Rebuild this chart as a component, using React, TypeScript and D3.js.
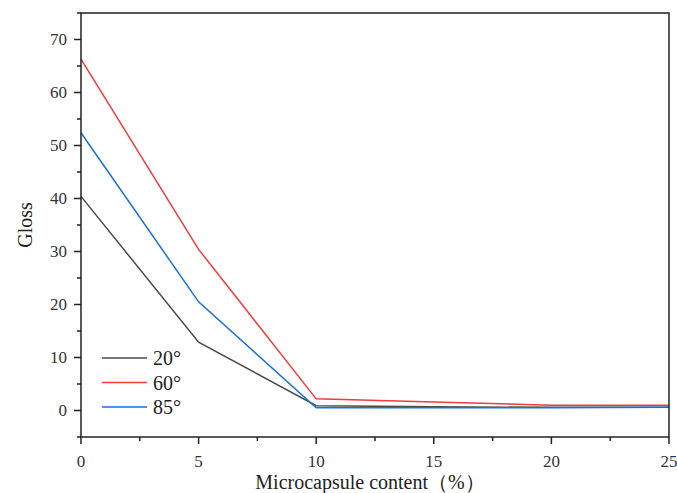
import { useMemo } from "react";
import * as d3 from "d3";

const WIDTH = 677;
const HEIGHT = 493;
const MARGIN = { top: 13, right: 8, bottom: 56, left: 81 };

const content = [0, 5, 10, 15, 20, 25];
const gloss20 = [40.4, 12.9, 0.9, 0.7, 0.6, 0.6];
const gloss60 = [66.3, 30.4, 2.2, 1.6, 1.0, 1.0];
const gloss85 = [52.4, 20.5, 0.5, 0.5, 0.5, 0.6];

const seriesNames = ["20°", "60°", "85°"];
const seriesColors = ["#4a4a4a", "#f03c3c", "#1a6fdb"];

const xTicks = [0, 5, 10, 15, 20, 25];
const yTicks = [0, 10, 20, 30, 40, 50, 60, 70];

const FONT = "Liberation Serif, DejaVu Serif, serif";
const textStyle = { fontFamily: FONT };

const App = () => {
  const innerW = WIDTH - MARGIN.left - MARGIN.right;
  const innerH = HEIGHT - MARGIN.top - MARGIN.bottom;

  const x = useMemo(() => d3.scaleLinear().domain([0, 25]).range([0, innerW]), [innerW]);
  const y = useMemo(() => d3.scaleLinear().domain([-5, 75]).range([innerH, 0]), [innerH]);

  const series = [gloss20, gloss60, gloss85];
  const line = d3
    .line<number>()
    .x((_, i) => x(content[i]))
    .y((d) => y(d));

  const xMinor = d3.range(2.5, 25, 5);
  const yMinor = d3.range(-5, 76, 10);

  return (
    <div style={{ position: "fixed", left: 0, top: 0 }}>
      <svg width={WIDTH} height={HEIGHT} style={{ display: "block", background: "#fff" }}>
        <g transform={`translate(${MARGIN.left},${MARGIN.top})`}>
          {series.map((s, i) => (
            <path key={i} d={line(s) || ""} fill="none" stroke={seriesColors[i]} strokeWidth={1.5} />
          ))}

          {/* frame */}
          <rect width={innerW} height={innerH} fill="none" stroke="#222" strokeWidth={1.5} />

          {/* y axis */}
          {yTicks.map((t) => (
            <g key={t} transform={`translate(0,${y(t)})`}>
              <line x1={-7} x2={0} stroke="#222" strokeWidth={1.5} />
              <text x={-14} dy="0.35em" textAnchor="end" style={textStyle} fontSize={17} fill="#333">
                {t}
              </text>
            </g>
          ))}
          {yMinor.map((t) => (
            <line key={t} x1={-4} x2={0} y1={y(t)} y2={y(t)} stroke="#222" strokeWidth={1.5} />
          ))}

          {/* x axis */}
          {xTicks.map((t) => (
            <g key={t} transform={`translate(${x(t)},${innerH})`}>
              <line y1={0} y2={7} stroke="#222" strokeWidth={1.5} />
              <text y={30} textAnchor="middle" style={textStyle} fontSize={17} fill="#333">
                {t}
              </text>
            </g>
          ))}
          {xMinor.map((t) => (
            <line key={t} x1={x(t)} x2={x(t)} y1={innerH} y2={innerH + 4} stroke="#222" strokeWidth={1.5} />
          ))}

          {/* legend */}
          {seriesNames.map((name, i) => (
            <g key={name} transform={`translate(21,${345 + i * 24.5})`}>
              <line x1={0} x2={45} stroke={seriesColors[i]} strokeWidth={1.5} />
              <text x={51} dy="0.35em" style={textStyle} fontSize={20} fill="#222">
                {name}
              </text>
            </g>
          ))}
        </g>

        <text
          transform={`translate(32,${MARGIN.top + innerH / 2}) rotate(-90)`}
          textAnchor="middle"
          style={textStyle}
          fontSize={20}
          fill="#222"
        >
          Gloss
        </text>
        <text x={370} y={489} textAnchor="middle" style={textStyle} fontSize={20} fill="#222">
          Microcapsule content（%）
        </text>
      </svg>
    </div>
  );
};

export default App;
